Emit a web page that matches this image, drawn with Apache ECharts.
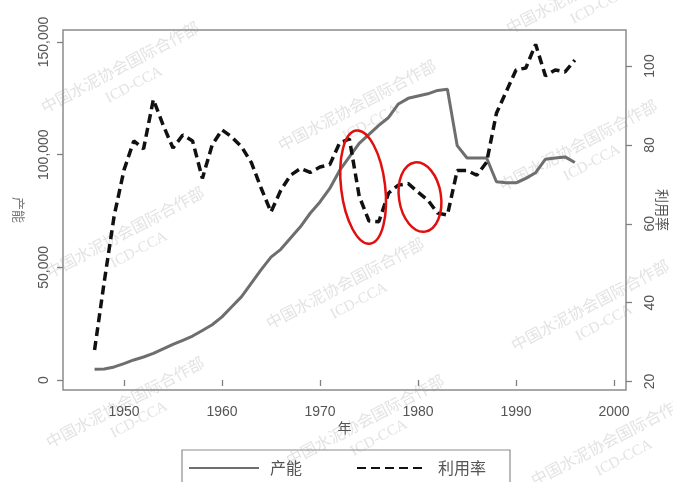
<!DOCTYPE html>
<html><head><meta charset="utf-8">
<script src="https://cdn.jsdelivr.net/npm/echarts@6/dist/echarts.min.js"></script>
<style>html,body{margin:0;padding:0;background:#fff}#c{width:673px;height:482px}</style>
</head><body><div id="c"></div>
<script>
// ---- data ----
const years = [1947,1948,1949,1950,1951,1952,1953,1954,1955,1956,1957,1958,1959,1960,1961,1962,1963,1964,1965,1966,1967,1968,1969,1970,1971,1972,1973,1974,1975,1976,1977,1978,1979,1980,1981,1982,1983,1984,1985,1986,1987,1988,1989,1990,1991,1992,1993,1994,1995,1996];
const capacity = [4800,4900,5800,7300,8900,10200,11800,13800,15800,17600,19500,22000,24500,28000,32500,37000,43000,49000,54500,58000,63000,68000,74000,79000,85000,93000,99000,105000,109000,113000,116500,122500,125000,126000,127000,128500,129000,104000,98500,98500,98500,88000,87500,87500,89500,92000,98000,98500,99000,96500];
const utilization = [28,45.5,62,73.6,81,79,91.5,85,79.2,82.5,81,71.5,80,83.8,82,79.5,75.5,69,63,68.5,72.3,74,73,74.4,75,80.5,81.5,67,60.7,60.5,67.8,69.8,70.2,68,66,62.7,62.2,73.5,73.5,72.3,75.6,88,93.5,99,99.5,105.5,97.5,99,98.5,101.5];
const xTicks = [1950,1960,1970,1980,1990,2000];
const leftTicks = [0,50000,100000,150000];
const rightTicks = [20,40,60,80,100];
const seriesNames = ['产能','利用率'];
const xName = '年';
// annotation ellipses centred in data coordinates (year, capacity)
const highlightCenters = [[1974.4, 85600], [1980.2, 81200]];
const watermarkText = '中国水泥协会国际合作部';
const watermarkSub = 'ICD-CCA';

const chart = echarts.init(document.getElementById('c'));
const fmt = v => String(v).replace(/\B(?=(\d{3})+(?!\d))/g, ',');
const axisGray = '#808080';
const labelGray = '#555';
const font = '"Liberation Sans", Arial, sans-serif';
const cjk = '"Noto Sans CJK SC", "Liberation Sans", sans-serif';

// watermark positions (pixel, decorative)
const wm = [[120,67],[357,105],[585,-12],[125,232],[578,145],[345,283],[590,305],[125,402],[365,420],[610,440]];
const wmGraphics = [];
wm.forEach(p => {
  wmGraphics.push({type:'text', x:p[0], y:p[1], rotation:Math.PI*0.155, z:-10, silent:true,
    style:{text:watermarkText, fill:'#e3e3e3', font:'16px "Noto Sans CJK SC"', align:'center', verticalAlign:'middle'}});
  wmGraphics.push({type:'text', x:p[0]+14, y:p[1]+18, rotation:Math.PI*0.155, z:-10, silent:true,
    style:{text:watermarkSub, fill:'#e3e3e3', font:'15px "Liberation Serif"', align:'center', verticalAlign:'middle'}});
});

chart.setOption({
  animation:false,
  backgroundColor:'#fff',
  grid:{left:63, top:30, right:47, bottom:92, outerBoundsMode:'none', containLabel:false,
        show:true, borderColor:'#8c8c8c', borderWidth:1.5, backgroundColor:'transparent'},
  legend:{
    left:182, top:450, orient:'horizontal',
    padding:[10,24,16,6], itemGap:54, itemWidth:70, itemHeight:14,
    borderColor:'#8c8c8c', borderWidth:1.2,
    itemStyle:{opacity:0, borderWidth:0},
    textStyle:{fontSize:16, color:labelGray, fontFamily:cjk, padding:[0,0,0,6]},
    data:[{name:seriesNames[0]},{name:seriesNames[1]}]
  },
  xAxis:{
    type:'value', min:1943.78, max:2001.22,
    name:xName, nameLocation:'middle', nameGap:31, nameMoveOverlap:false,
    nameTextStyle:{fontSize:14, color:labelGray, fontFamily:cjk},
    axisLine:{show:false},
    axisTick:{show:true, customValues:xTicks, length:6, lineStyle:{color:axisGray, width:1.3}},
    axisLabel:{customValues:xTicks, color:labelGray, fontSize:14, fontFamily:font, margin:15, formatter:v=>String(v)},
    splitLine:{show:false}
  },
  yAxis:[{
    type:'value', position:'left', min:-4438, max:155325,
    name:seriesNames[0], nameLocation:'middle', nameGap:38, nameRotate:-90, nameMoveOverlap:false,
    nameTextStyle:{fontSize:13, color:'#777', fontFamily:cjk},
    axisLine:{show:false},
    axisTick:{show:true, customValues:leftTicks, length:6, lineStyle:{color:axisGray, width:1.3}},
    axisLabel:{customValues:leftTicks, rotate:90, color:labelGray, fontSize:14, fontFamily:font, margin:12, formatter:fmt},
    splitLine:{show:false}
  },{
    type:'value', position:'right', min:17.845, max:109.13,
    name:seriesNames[1], nameLocation:'middle', nameGap:29, nameRotate:-90, nameMoveOverlap:false,
    nameTextStyle:{fontSize:14, color:labelGray, fontFamily:cjk},
    axisLine:{show:false},
    axisTick:{show:true, customValues:rightTicks, length:6, lineStyle:{color:axisGray, width:1.3}},
    axisLabel:{customValues:rightTicks, rotate:90, color:labelGray, fontSize:14, fontFamily:font, margin:17},
    splitLine:{show:false}
  }],
  series:[{
    name:seriesNames[0], type:'line', yAxisIndex:0, symbol:'none',
    data:years.map((y,i)=>[y, capacity[i]]),
    lineStyle:{color:'#6e6e6e', width:3}, itemStyle:{color:'#6e6e6e'}, z:3
  },{
    name:seriesNames[1], type:'line', yAxisIndex:1, symbol:'none',
    data:years.map((y,i)=>[y, utilization[i]]),
    lineStyle:{color:'#111', width:3.5, type:[9,5]}, itemStyle:{color:'#111'}, z:4
  }],
  graphic: wmGraphics
});

// red highlight ellipses placed through the chart's own coordinate system
const e1 = chart.convertToPixel({xAxisIndex:0, yAxisIndex:0}, highlightCenters[0]);
const e2 = chart.convertToPixel({xAxisIndex:0, yAxisIndex:0}, highlightCenters[1]);
chart.setOption({graphic: wmGraphics.concat([
  {type:'ellipse', x:e1[0], y:e1[1], rotation:0.12, z:20, shape:{cx:0, cy:0, rx:22, ry:57}, style:{fill:'none', stroke:'#e01010', lineWidth:2.5}},
  {type:'ellipse', x:e2[0], y:e2[1], rotation:0.15, z:20, shape:{cx:0, cy:0, rx:21, ry:35}, style:{fill:'none', stroke:'#e01010', lineWidth:2.5}}
])});
</script>
</body></html>
